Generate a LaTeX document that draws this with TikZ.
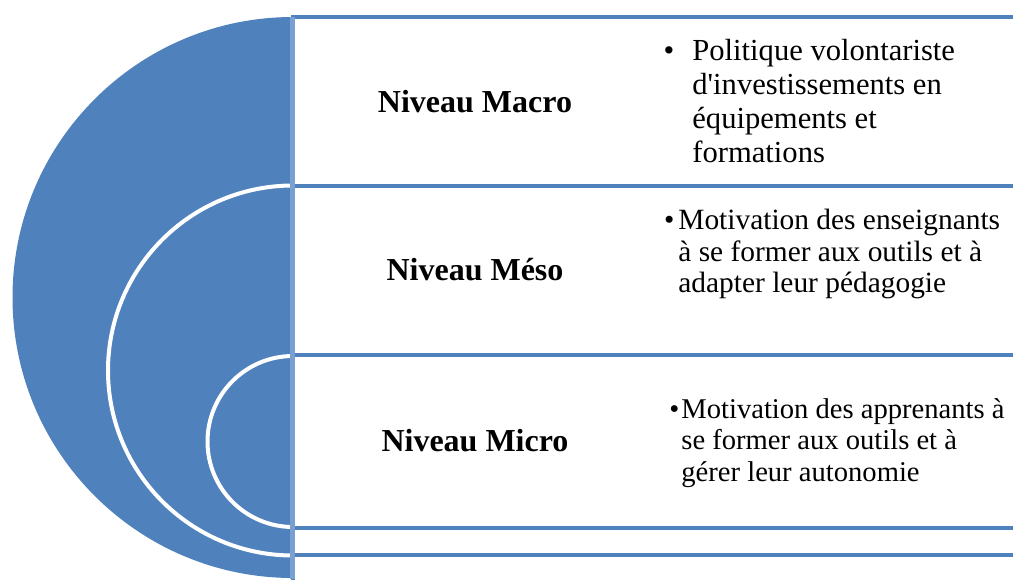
\documentclass[tikz,border=0pt]{standalone}
\usepackage{fontspec}
\setmainfont{Liberation Serif}
\definecolor{nivblue}{HTML}{4F81BD}
\definecolor{nivedge}{HTML}{7A9FD1}

\begin{document}
\begin{tikzpicture}[x=0.5pt, y=-0.5pt,
  box/.style={draw=nivblue, fill=white, line width=2pt},
  lvl/.style={font=\fontsize{16}{19}\selectfont\bfseries, inner sep=0pt},
  txt/.style={font=\fontsize{14.7}{15.8}\selectfont, align=left, inner sep=0pt, anchor=west}]
\useasboundingbox (0,0) rectangle (1013,579);
\clip (0,0) rectangle (1013,579);
% nested boxes
\draw[box] (293,17) rectangle (1040,620)
           (293,186) rectangle (1040,555)
           (293,355) rectangle (1040,527.5);
% half target
\begin{scope}
\clip (0,0) rectangle (293,579);
\fill[nivblue] (293,297.5) circle (140.25pt);
\draw[white, line width=2pt] (293,370.5) circle (92.5pt)
                             (293,441.5) circle (42.75pt);
\end{scope}
\draw[nivedge, line width=2.5pt] (292.5,17) -- (292.5,579);
% levels
\node[lvl] (macro) at (475,102) {Niveau Macro};
\node[lvl] (meso) at (475,270) {Niveau Méso};
\node[lvl] (micro) at (475,441) {Niveau Micro};
\node[txt, font=\fontsize{15.3}{17}\selectfont] (macrotxt) at (692,101)
  {\llap{\textbullet\hspace{9pt}}Politique volontariste\\d\textquotesingle investissements en\\équipements et\\formations};
\node[txt] (mesotxt) at (678,254)
  {\llap{\textbullet\hspace{2pt}}Motivation des enseignants\\à se former aux outils et à\\adapter leur pédagogie};
\node[txt, font=\fontsize{14.3}{15.6}\selectfont] (microtxt) at (681,443)
  {\llap{\textbullet\hspace{1pt}}Motivation des apprenants à\\se former aux outils et à\\gérer leur autonomie};
\end{tikzpicture}
\end{document}
